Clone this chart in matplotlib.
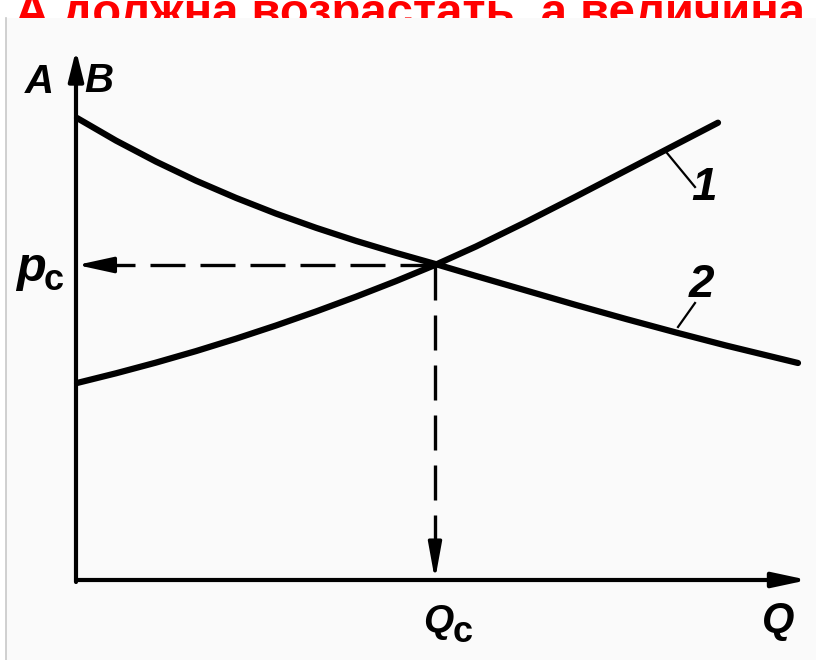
import matplotlib.pyplot as plt
import numpy as np

# supply curve (1) and demand curve (2), in picture units: Q right, P up from the origin
supply_q = [1, 40, 80, 120, 160, 200, 240, 280, 320, 359, 400, 450, 500, 550, 600, 642]
supply_p = [197, 206.7, 217.4, 228.9, 241.3, 254.5, 268.5, 283.3, 298.9, 315,
            333.5, 358, 383.5, 409.5, 435.5, 457.3]
demand_q = [1, 40, 80, 120, 160, 200, 240, 280, 320, 359, 400, 450, 500, 550, 600, 650, 722]
demand_p = [462, 439.4, 418.4, 399.3, 382.1, 366.4, 352.2, 339.1, 327.1, 316.1,
            304, 289.5, 275, 261, 247.5, 234.5, 217]
q_eq, p_eq = 359, 315

title = "А должна возрастать, а величина"

fig = plt.figure(figsize=(8.16, 6.6), dpi=100)
fig.patch.set_facecolor("white")

# red heading, partly hidden behind the picture
fig.text(15 / 816, 1 - 26 / 660, title, color="#ff0000", fontsize=34,
         fontweight="bold", family=["Liberation Sans", "DejaVu Sans"],
         ha="left", va="baseline")

ax = fig.add_axes([6 / 816, 0, 810 / 816, 642 / 660])
ax.set_zorder(5)
ax.set_facecolor("#fafafa")
ax.set_xlim(-70, 740)
ax.set_ylim(-80, 562)
ax.set_xticks([])
ax.set_yticks([])
for side in ["top", "right", "bottom"]:
    ax.spines[side].set_visible(False)
ax.spines["left"].set_color("#c8c8c8")
ax.spines["left"].set_linewidth(1.2)

# axes with arrows
ax.annotate("", xy=(732, 0), xytext=(0, 0),
            arrowprops=dict(arrowstyle="-|>,head_length=1.4,head_width=0.3",
                            color="black", lw=3, shrinkA=0, shrinkB=0,
                            mutation_scale=15))
ax.annotate("", xy=(0, 530), xytext=(0, -2),
            arrowprops=dict(arrowstyle="-|>,head_length=1.2,head_width=0.3",
                            color="black", lw=3, shrinkA=0, shrinkB=0,
                            mutation_scale=15))

# curves
ax.plot(supply_q, supply_p, color="black", lw=4.5,
        solid_capstyle="round", solid_joinstyle="round")
ax.plot(demand_q, demand_p, color="black", lw=4.5,
        solid_capstyle="round", solid_joinstyle="round")

# dashed guides
ax.plot([q_eq, 32], [p_eq, p_eq], color="black", lw=2.4,
        linestyle=(0, (10.5, 4.5)))
ax.annotate("", xy=(1, p_eq), xytext=(32, p_eq),
            arrowprops=dict(arrowstyle="-|>,head_length=1.1,head_width=0.24",
                            color="black", lw=2.4, shrinkA=0, shrinkB=0,
                            mutation_scale=20))
ax.plot([q_eq, q_eq], [p_eq, 30], color="black", lw=2.4,
        linestyle=(0, (10.5, 4.5)))
ax.annotate("", xy=(q_eq, 0), xytext=(q_eq, 30),
            arrowprops=dict(arrowstyle="-|>,head_length=1.1,head_width=0.2",
                            color="black", lw=2.4, shrinkA=0, shrinkB=0,
                            mutation_scale=20))

# leader lines for curve numbers
ax.plot([591, 619], [427, 393], color="black", lw=1.6)
ax.plot([602, 619], [253, 277], color="black", lw=1.6)

lab = dict(family=["Liberation Sans Narrow", "Liberation Sans", "DejaVu Sans"],
           style="italic", weight="bold", color="black",
           ha="center", va="baseline")
ax.text(-37, 487, "A", fontsize=29, **lab)
ax.text(23, 488, "B", fontsize=29, **lab)
ax.text(-45, 299, "p", fontsize=35, **lab)
ax.text(-22, 290, "c", fontsize=26, **dict(lab, style="normal"))
ax.text(362, -52, "Q", fontsize=28, **lab)
ax.text(387, -62, "c", fontsize=26, **dict(lab, style="normal"))
ax.text(702, -52, "Q", fontsize=30, **lab)
ax.text(628, 380, "1", fontsize=33, **lab)
ax.text(625, 283, "2", fontsize=33, **lab)

fig.savefig("out.png", dpi=100)
